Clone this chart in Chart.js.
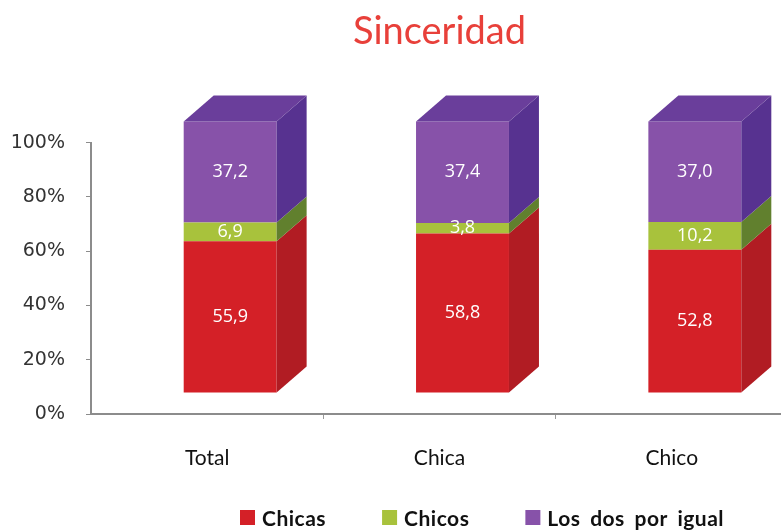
<!DOCTYPE html>
<html lang="es">
<head>
<meta charset="UTF-8">
<title>Sinceridad</title>
<script src="https://cdn.jsdelivr.net/npm/chart.js"></script>
<style>
  html, body { margin: 0; padding: 0; background: #fff; overflow: hidden; }
  #chart { display: block; }
</style>
</head>
<body>
<canvas id="chart" width="788" height="531"></canvas>
<script>
// datos
const categories = ['Total', 'Chica', 'Chico'];
const seriesNames = ['Chicas', 'Chicos', 'Los dos por igual'];
const chicas = [55.9, 58.8, 52.8];
const chicos = [6.9, 3.8, 10.2];
const losDos = [37.2, 37.4, 37.0];
const yTicks = [0, 20, 40, 60, 80, 100];

// estilo
const frontColors = ['#d42027', '#a8c23c', '#8752a9'];
const sideColors = ['#b11c23', '#61802e', '#573290'];
const topColor = '#6a3e9b';
const depth = { x: 30, y: 26 };
const shift = { x: 23, y: -21 };

// caras laterales / superior + etiquetas, dibujadas sobre los elementos de Chart.js
const bars3d = {
  id: 'bars3d',
  beforeDatasetsDraw(chart) {
    chart.ctx.save();
    chart.ctx.translate(shift.x, shift.y);
  },
  afterDatasetsDraw(chart) {
    const ctx = chart.ctx;
    const last = chart.data.datasets.length - 1;
    chart.data.datasets.forEach((ds, i) => {
      chart.getDatasetMeta(i).data.forEach(bar => {
        const p = bar.getProps(['x', 'y', 'base', 'width'], true);
        const x1 = p.x - p.width / 2, x2 = p.x + p.width / 2;
        ctx.fillStyle = sideColors[i];
        ctx.beginPath();
        ctx.moveTo(x2, p.y);
        ctx.lineTo(x2 + depth.x, p.y - depth.y);
        ctx.lineTo(x2 + depth.x, p.base - depth.y);
        ctx.lineTo(x2, p.base);
        ctx.closePath();
        ctx.fill();
        if (i === last) {
          ctx.fillStyle = topColor;
          ctx.beginPath();
          ctx.moveTo(x1, p.y);
          ctx.lineTo(x1 + depth.x, p.y - depth.y);
          ctx.lineTo(x2 + depth.x, p.y - depth.y);
          ctx.lineTo(x2, p.y);
          ctx.closePath();
          ctx.fill();
        }
      });
    });
    ctx.font = '18px "Open Sans"';
    ctx.fillStyle = '#fff';
    ctx.textAlign = 'center';
    ctx.textBaseline = 'middle';
    chart.data.datasets.forEach((ds, i) => {
      chart.getDatasetMeta(i).data.forEach((bar, j) => {
        const p = bar.getProps(['x', 'y', 'base'], true);
        ctx.fillText(ds.data[j].toFixed(1).replace('.', ','), p.x, (p.y + p.base) / 2);
      });
    });
    ctx.restore();
  },
  afterDraw(chart) {
    // leyenda
    const ctx = chart.ctx;
    ctx.save();
    ctx.font = 'bold 21px Lato';
    ctx.wordSpacing = '4px';
    ctx.letterSpacing = '0.5px';
    ctx.textAlign = 'left';
    ctx.textBaseline = 'middle';
    let x = 240;
    const cy = 518;
    chart.data.datasets.forEach(ds => {
      ctx.fillStyle = ds.backgroundColor;
      ctx.fillRect(x, cy - 8, 15, 15);
      x += 22;
      ctx.fillStyle = '#111';
      ctx.fillText(ds.label, x, cy + 1);
      x += ctx.measureText(ds.label).width + 56;
    });
    ctx.restore();
  }
};

const seriesData = [chicas, chicos, losDos];

new Chart(document.getElementById('chart'), {
  type: 'bar',
  data: {
    labels: categories,
    datasets: seriesNames.map((name, i) => ({
      label: name,
      data: seriesData[i],
      backgroundColor: frontColors[i],
      borderWidth: 0,
      categoryPercentage: 1,
      barPercentage: 0.4,
      clip: false
    }))
  },
  options: {
    responsive: false,
    animation: false,
    layout: { padding: 0 },
    plugins: {
      legend: { display: false },
      tooltip: { enabled: false },
      title: {
        display: true,
        text: 'Sinceridad',
        fullSize: false,
        color: '#e8403a',
        font: { family: 'Lato', size: 38, weight: 'normal' },
        padding: { top: 9, bottom: 88 }
      }
    },
    scales: {
      x: {
        stacked: true,
        grid: {
          drawOnChartArea: false,
          tickLength: 5,
          color: c => (c.index === 0 ? 'rgba(0,0,0,0)' : '#999')
        },
        border: { color: '#8c8c8c', width: 2 },
        ticks: { padding: 27, color: '#111', font: { family: 'Lato', size: 21 } },
        afterFit(s) { s.height = 117; }
      },
      y: {
        stacked: true,
        min: 0,
        max: 100,
        afterBuildTicks(s) { s.ticks = yTicks.map(v => ({ value: v })); },
        grid: { drawOnChartArea: false, tickLength: 5, color: '#8c8c8c' },
        border: { color: '#8c8c8c', width: 2 },
        ticks: {
          padding: 21,
          color: '#333',
          font: { family: 'DejaVu Sans', size: 19 },
          callback: v => v + '%'
        },
        afterFit(s) { s.width = 91; }
      }
    }
  },
  plugins: [bars3d]
});
</script>
</body>
</html>
